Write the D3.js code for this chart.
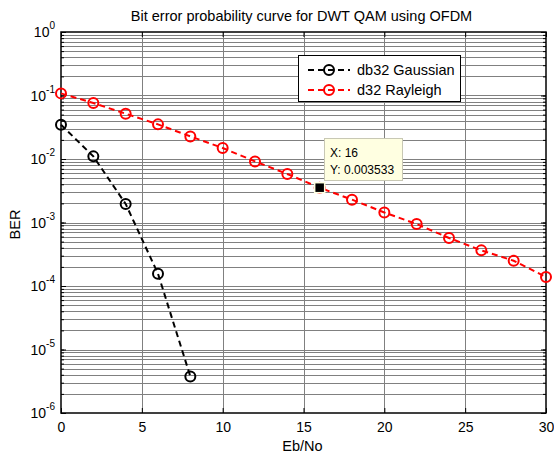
<!DOCTYPE html>
<html><head><meta charset="utf-8">
<script src="https://cdn.jsdelivr.net/npm/d3@7"></script>
<style>
html,body{margin:0;padding:0;background:#fff;}
svg{display:block;font-family:"Liberation Sans",Arial,sans-serif;}
</style></head>
<body>
<svg id="chart" width="554" height="455"></svg>
<script>
// ---- data ----
const ebno = [0, 2, 4, 6, 8, 10, 12, 14, 16, 18, 20, 22, 24, 26, 28, 30];
const gaussX = [0, 2, 4, 6, 8];
const gaussBER = [0.0347, 0.0110, 0.00196, 0.000156, 3.77e-6];
const rayleighBER = [0.108, 0.0762, 0.0517, 0.0351, 0.0227, 0.0149, 0.00917, 0.00581,
                     0.003533, 0.00229, 0.00144, 0.000947, 0.00057, 0.000364, 0.00025, 0.000139];
const xTicks = [0, 5, 10, 15, 20, 25, 30];
const yExponents = [0, -1, -2, -3, -4, -5, -6];
const seriesNames = ["db32 Gaussian", "d32 Rayleigh"];
const seriesColors = ["#000000", "#ff0000"];
const titleText = "Bit error probability curve for DWT QAM using OFDM";
const xLabel = "Eb/No";
const yLabel = "BER";
const tipX = 16, tipY = 0.003533;

// ---- layout ----
const L = 61, R = 546, T = 32, B = 413;
const svg = d3.select("#chart");
const x = d3.scaleLinear().domain([0, 30]).range([L, R]);
const y = d3.scaleLog().domain([1e-6, 1]).range([B, T]);

// grid
const minorVals = [];
for (let e = -6; e < 0; e++) for (let m = 1; m <= 9; m++) minorVals.push(m * Math.pow(10, e));
const grid = svg.append("g");
grid.selectAll("line.h").data(minorVals.filter(v => v > 1e-6)).join("line")
  .attr("x1", L).attr("x2", R)
  .attr("y1", d => Math.round(y(d)) + 0.5).attr("y2", d => Math.round(y(d)) + 0.5)
  .attr("stroke", "#808080").attr("stroke-width", 1);
grid.selectAll("line.v").data(xTicks.slice(1, -1)).join("line")
  .attr("y1", T).attr("y2", B)
  .attr("x1", d => Math.round(x(d)) + 0.5).attr("x2", d => Math.round(x(d)) + 0.5)
  .attr("stroke", "#808080").attr("stroke-width", 1);

// axes (ticks inside)
const axB = d3.axisBottom(x).tickValues(xTicks).tickSize(-5).tickPadding(9).tickFormat(d3.format("d"));
const axT = d3.axisTop(x).tickValues(xTicks).tickSize(-5).tickFormat("");
const axLmaj = d3.axisLeft(y).tickValues(yExponents.map(e => Math.pow(10, e))).tickSize(-5).tickFormat("");
const axLmin = d3.axisLeft(y).tickValues(minorVals).tickSize(-3).tickFormat("");
const axRmaj = d3.axisRight(y).tickValues(yExponents.map(e => Math.pow(10, e))).tickSize(-5).tickFormat("");
const axRmin = d3.axisRight(y).tickValues(minorVals).tickSize(-3).tickFormat("");
function styleAx(g) { g.select(".domain").remove(); g.selectAll(".tick line").attr("stroke", "#000"); }
svg.append("g").attr("transform", `translate(0,${B})`).call(axB).call(styleAx)
  .selectAll("text").attr("font-size", 14).attr("fill", "#000").attr("font-family", "Liberation Sans, Arial, sans-serif");
svg.append("g").attr("transform", `translate(0,${T})`).call(axT).call(styleAx);
svg.append("g").attr("transform", `translate(${L},0)`).call(axLmaj).call(styleAx);
svg.append("g").attr("transform", `translate(${L},0)`).call(axLmin).call(styleAx);
svg.append("g").attr("transform", `translate(${R},0)`).call(axRmaj).call(styleAx);
svg.append("g").attr("transform", `translate(${R},0)`).call(axRmin).call(styleAx);

// y tick labels with superscripts
const yl = svg.append("g").selectAll("text").data(yExponents).join("text")
  .attr("x", L - 6).attr("y", d => y(Math.pow(10, d)) + 5)
  .attr("text-anchor", "end").attr("font-size", 14).attr("fill", "#000");
yl.append("tspan").text("10");
yl.append("tspan").attr("dy", -8).attr("font-size", 10).text(d => d);

// frame
svg.append("rect").attr("x", L).attr("y", T).attr("width", R - L).attr("height", B - T)
  .attr("fill", "none").attr("stroke", "#000").attr("stroke-width", 1.5);

// lines
const line = d3.line().x(d => x(d[0])).y(d => y(d[1]));
const series = [
  gaussX.map((v, i) => [v, gaussBER[i]]),
  ebno.map((v, i) => [v, rayleighBER[i]])
];
series.forEach((s, i) => {
  svg.append("path").datum(s).attr("d", line).attr("fill", "none")
    .attr("stroke", seriesColors[i]).attr("stroke-width", 2).attr("stroke-dasharray", "6,4");
  svg.append("g").selectAll("circle").data(s).join("circle")
    .attr("cx", d => x(d[0])).attr("cy", d => y(d[1])).attr("r", 5)
    .attr("fill", "none").attr("stroke", seriesColors[i]).attr("stroke-width", 2);
});

// data tip
const tx = x(tipX), ty = y(tipY);
svg.append("rect").attr("x", tx - 5).attr("y", ty - 5).attr("width", 10).attr("height", 10)
  .attr("fill", "#000").attr("stroke", "#ffffe1").attr("stroke-width", 1.5);
svg.append("rect").attr("x", 324.5).attr("y", 138.5).attr("width", 78).attr("height", 42)
  .attr("fill", "#ffffe1").attr("stroke", "#c8c8b4").attr("stroke-width", 1);
svg.append("text").attr("x", 330).attr("y", 157).attr("font-size", 12).text("X: " + tipX);
svg.append("text").attr("x", 330).attr("y", 173.5).attr("font-size", 12).text("Y: " + tipY);

// legend
const lg = svg.append("g");
lg.append("rect").attr("x", 298.5).attr("y", 55.5).attr("width", 162).attr("height", 46)
  .attr("fill", "#fff").attr("stroke", "#000").attr("stroke-width", 1);
seriesNames.forEach((n, i) => {
  const yy = 70 + i * 20;
  lg.append("line").attr("x1", 308).attr("x2", 350).attr("y1", yy).attr("y2", yy)
    .attr("stroke", seriesColors[i]).attr("stroke-width", 2).attr("stroke-dasharray", "6,4");
  lg.append("circle").attr("cx", 329).attr("cy", yy).attr("r", 5).attr("fill", "none")
    .attr("stroke", seriesColors[i]).attr("stroke-width", 2);
  lg.append("text").attr("x", 357).attr("y", yy + 5).attr("font-size", 14.5).text(n);
});

// title and labels
svg.append("text").attr("x", (L + R) / 2 - 2).attr("y", 21).attr("text-anchor", "middle")
  .attr("font-size", 14.5).text(titleText);
svg.append("text").attr("x", (L + R) / 2 - 1).attr("y", 451).attr("text-anchor", "middle")
  .attr("font-size", 14.5).text(xLabel);
svg.append("text").attr("transform", `translate(20,${(T + B) / 2 + 2}) rotate(-90)`)
  .attr("text-anchor", "middle").attr("font-size", 14.5).text(yLabel);
</script>
</body></html>
